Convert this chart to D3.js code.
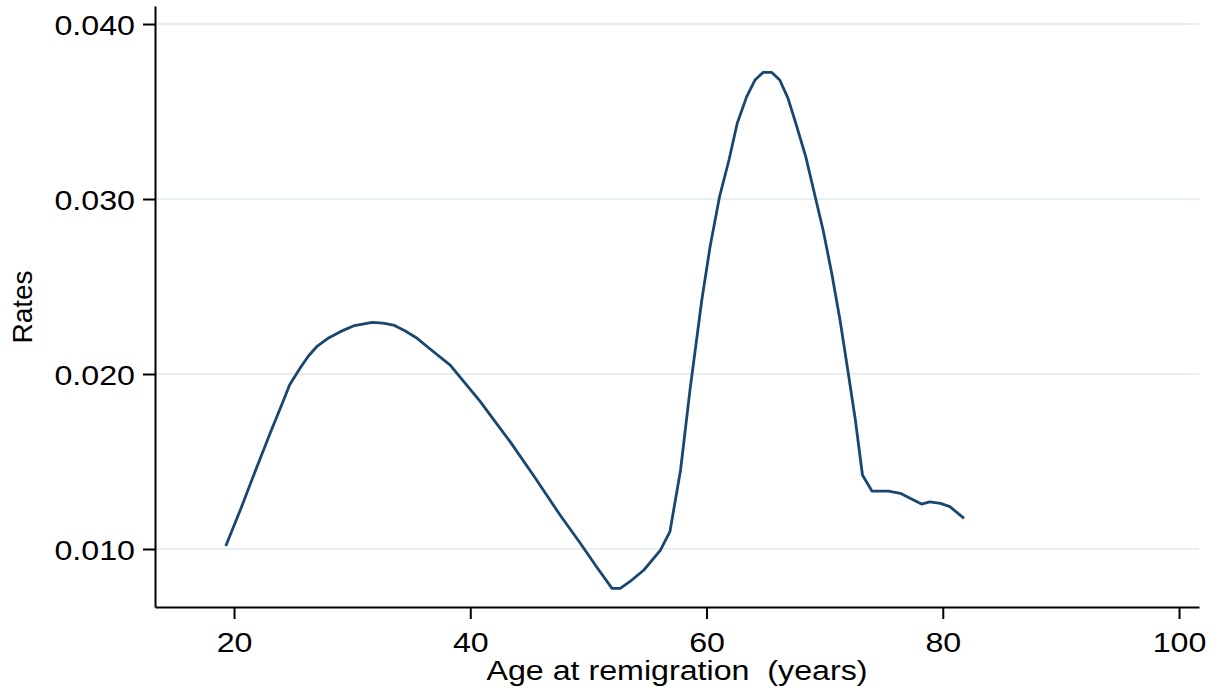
<!DOCTYPE html>
<html>
<head>
<meta charset="utf-8">
<script src="https://cdn.jsdelivr.net/npm/d3@7"></script>
<style>
  body { margin: 0; background: #fff; }
  svg text { font-family: "Liberation Sans", Arial, sans-serif; fill: #000; white-space: pre; }
</style>
</head>
<body>
<div id="chart"></div>
<script>
// remigration rates by age
var ages = [19.3, 20.6, 21.9, 23.1, 24.2, 24.7, 25.6, 26.3, 27.0, 28.0, 29.0, 30.2,
    31.7, 32.6, 33.5, 34.5, 35.5, 36.6, 38.3, 40.8, 43.4, 45.5, 47.6, 49.3, 50.7,
    52.0, 52.7, 53.5, 54.7, 56.1, 56.9, 57.8, 58.6, 59.6, 60.3, 61.1, 61.9, 62.6,
    63.4, 64.1, 64.8, 65.5, 66.2, 66.9, 67.6, 68.4, 69.2, 69.9, 70.6, 71.3, 72.0,
    72.6, 73.2, 74.0, 75.4, 76.4, 77.4, 78.2, 78.9, 79.8, 80.6, 81.8];
var rates = [0.01017, 0.01234, 0.01463, 0.01669, 0.01851, 0.01937, 0.02034, 0.02103,
    0.02156, 0.02206, 0.02242, 0.02277, 0.02295, 0.02291, 0.02280, 0.02246, 0.02204,
    0.02143, 0.02051, 0.01846, 0.01611, 0.01406, 0.01194, 0.01034, 0.00897, 0.00775,
    0.00775, 0.00813, 0.00880, 0.00994, 0.01099, 0.01450, 0.01909, 0.02423, 0.02727,
    0.03013, 0.03223, 0.03433, 0.03585, 0.03680, 0.03724, 0.03724, 0.03680, 0.03575,
    0.03423, 0.03242, 0.03013, 0.02813, 0.02575, 0.02309, 0.02004, 0.01737, 0.01423,
    0.01331, 0.01331, 0.01318, 0.01284, 0.01257, 0.01269, 0.01261, 0.01242, 0.01175];

var xTicks = [20, 40, 60, 80, 100];
var yTicks = [0.010, 0.020, 0.030, 0.040];

var W = 1219, H = 692;
var stretch = 1.15; // text in the picture is a bit wide

var svg = d3.select("#chart")
    .append("svg")
    .attr("width", W)
    .attr("height", H);

//Scales
var x = d3.scaleLinear()
    .domain([13.31, 101.69])
    .range([155, 1199]);

var y = d3.scaleLinear()
    .domain([0.006686, 0.041029])
    .range([607, 6]);

//Grid lines
svg.append("g")
    .selectAll("line")
    .data(yTicks)
    .enter()
    .append("line")
    .attr("x1", x.range()[0])
    .attr("x2", x.range()[1])
    .attr("y1", function (d) { return y(d); })
    .attr("y2", function (d) { return y(d); })
    .attr("stroke", "#e6eff1")
    .attr("stroke-width", 2);

//Y Axis
var yAxis = svg.append("g")
    .attr("transform", "translate(155,0)")
    .call(d3.axisLeft(y).tickValues(yTicks).tickFormat(d3.format(".3f"))
        .tickSize(12).tickSizeOuter(0).tickPadding(8));

//X Axis
var xAxis = svg.append("g")
    .attr("transform", "translate(0,607)")
    .call(d3.axisBottom(x).tickValues(xTicks).tickFormat(d3.format("d"))
        .tickSize(12).tickSizeOuter(0).tickPadding(8));

svg.selectAll(".domain")
    .attr("stroke", "#000")
    .attr("stroke-width", 2);
svg.selectAll(".tick line")
    .attr("stroke", "#000")
    .attr("stroke-width", 2);
svg.selectAll(".tick text")
    .attr("font-size", 28)
    .attr("fill", "#000");

yAxis.selectAll(".tick text")
    .attr("x", -20 / stretch)
    .attr("dy", "0.36em")
    .attr("transform", "scale(" + stretch + ",1)");

xAxis.selectAll(".tick text")
    .attr("y", 0)
    .attr("dy", 0)
    .attr("transform", "translate(0,45) scale(" + stretch + ",1)");

//Axis titles
svg.append("text")
    .attr("transform", "translate(677,680) scale(" + stretch + ",1)")
    .attr("text-anchor", "middle")
    .attr("font-size", 28)
    .attr("xml:space", "preserve")
    .text("Age at remigration  (years)");

svg.append("text")
    .attr("transform", "translate(32,307) rotate(-90)")
    .attr("text-anchor", "middle")
    .attr("font-size", 28)
    .text("Rates");

//Line
var line = d3.line()
    .x(function (d, i) { return x(ages[i]); })
    .y(function (d, i) { return y(rates[i]); });

svg.append("path")
    .datum(ages)
    .attr("d", line)
    .attr("fill", "none")
    .attr("stroke", "#1a476f")
    .attr("stroke-width", 2.8)
    .attr("stroke-linejoin", "round");
</script>
</body>
</html>
